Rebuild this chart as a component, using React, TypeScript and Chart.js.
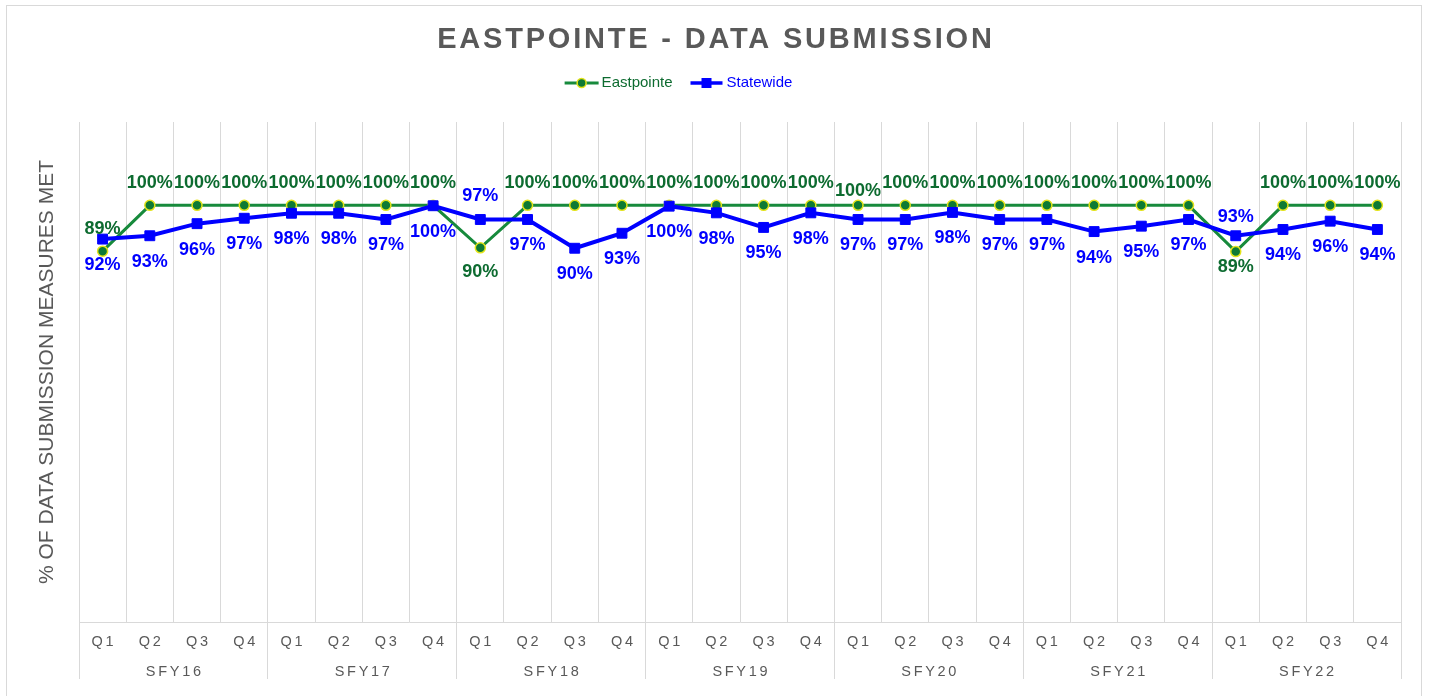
import React, { useEffect, useRef } from 'react';
import { Chart, registerables } from 'chart.js';

Chart.register(...registerables);

const FONT = 'Arial, "Liberation Sans", sans-serif';

const chartTitle = 'EASTPOINTE - DATA SUBMISSION';
const yAxisTitle = '% OF DATA SUBMISSION MEASURES MET';
const quarterLabels = ['Q1', 'Q2', 'Q3', 'Q4'];
const fiscalYears = ['SFY16', 'SFY17', 'SFY18', 'SFY19', 'SFY20', 'SFY21', 'SFY22'];
const categories = fiscalYears.flatMap((fy) => quarterLabels.map((q) => `${fy} ${q}`));

const eastpointe = [
  0.89, 1, 1, 1,
  1, 1, 1, 1,
  0.898, 1, 1, 1,
  1, 1, 1, 1,
  1, 1, 1, 1,
  1, 1, 1, 1,
  0.889, 1, 1, 1,
];
const statewide = [
  0.919, 0.927, 0.956, 0.969,
  0.981, 0.981, 0.966, 0.999,
  0.966, 0.966, 0.897, 0.933,
  0.998, 0.982, 0.947, 0.982,
  0.966, 0.966, 0.983, 0.966,
  0.966, 0.937, 0.95, 0.966,
  0.927, 0.942, 0.962, 0.942,
];

// styling
const GRAY = '#595959';
const GRID = '#D9D9D9';
const GREEN_LINE = '#178A3C';
const GREEN_FILL = '#0E7A34';
const YELLOW = '#E3E31A';
const GREEN_TEXT = '#0D6B30';
const BLUE = '#0000FF';

// label placement (vertical offset from the point, px)
const labelPlacement: Record<string, { base: number; special: Record<number, number>; color: string }> = {
  Eastpointe: { base: -22, special: { 8: 24, 16: -14, 24: 15 }, color: GREEN_TEXT },
  Statewide: { base: 26, special: { 8: -23, 24: -19 }, color: BLUE },
};

const align = (x: number) => Math.round(x - 0.5) + 0.5;

const decorPlugin = {
  id: 'decor',
  beforeDraw(chart: any) {
    const { ctx, width, height } = chart;
    ctx.save();
    ctx.fillStyle = '#ffffff';
    ctx.fillRect(0, 0, width, height);
    ctx.strokeStyle = GRID;
    ctx.lineWidth = 1;
    ctx.strokeRect(6.5, 5.5, 1415, height + 20);
    ctx.restore();
  },
  afterDatasetsDraw(chart: any) {
    const { ctx } = chart;
    ctx.save();
    ctx.font = `bold 18px ${FONT}`;
    ctx.textAlign = 'center';
    ctx.textBaseline = 'middle';
    chart.data.datasets.forEach((ds: any, di: number) => {
      const meta = chart.getDatasetMeta(di);
      const place = labelPlacement[ds.label];
      ctx.fillStyle = place.color;
      meta.data.forEach((pt: any, i: number) => {
        const v = ds.data[i] as number;
        const off = place.special[i] !== undefined ? place.special[i] : place.base;
        ctx.fillText(`${Math.round(v * 100)}%`, pt.x, pt.y + off);
      });
    });
    ctx.restore();
  },
  afterDraw(chart: any) {
    const { ctx, chartArea } = chart;
    const xs = chart.scales.x;
    ctx.save();

    // Title
    ctx.fillStyle = GRAY;
    ctx.font = `bold 29px ${FONT}`;
    ctx.textAlign = 'center';
    ctx.textBaseline = 'alphabetic';
    (ctx as any).letterSpacing = '2.8px';
    ctx.fillText(chartTitle, chart.width / 2 + 1.4, 48);

    // Legend
    (ctx as any).letterSpacing = '0px';
    ctx.font = `15px ${FONT}`;
    ctx.textBaseline = 'middle';
    ctx.textAlign = 'left';
    const ly = 83;
    const w1 = ctx.measureText('Eastpointe').width;
    const w2 = ctx.measureText('Statewide').width;
    const total = 34 + 3 + w1 + 18 + 32 + 4 + w2;
    let lx = chart.width / 2 - 36 - total / 2;
    ctx.strokeStyle = GREEN_LINE;
    ctx.lineWidth = 3;
    ctx.beginPath();
    ctx.moveTo(lx, ly);
    ctx.lineTo(lx + 34, ly);
    ctx.stroke();
    ctx.beginPath();
    ctx.arc(lx + 17, ly, 4.5, 0, Math.PI * 2);
    ctx.fillStyle = GREEN_FILL;
    ctx.fill();
    ctx.lineWidth = 1.5;
    ctx.strokeStyle = YELLOW;
    ctx.stroke();
    ctx.fillStyle = GREEN_TEXT;
    ctx.fillText('Eastpointe', lx + 37, ly);
    lx += 37 + w1 + 18;
    ctx.strokeStyle = BLUE;
    ctx.lineWidth = 3.5;
    ctx.beginPath();
    ctx.moveTo(lx, ly);
    ctx.lineTo(lx + 32, ly);
    ctx.stroke();
    ctx.fillStyle = BLUE;
    ctx.fillRect(lx + 16 - 5, ly - 5, 10, 10);
    ctx.fillText('Statewide', lx + 36, ly);

    // Multi-level category axis
    const step = (xs.right - xs.left) / categories.length;
    ctx.fillStyle = GRAY;
    ctx.font = `14.5px ${FONT}`;
    ctx.textAlign = 'center';
    ctx.textBaseline = 'alphabetic';
    (ctx as any).letterSpacing = '2.7px';
    categories.forEach((_, i) => {
      ctx.fillText(quarterLabels[i % quarterLabels.length], xs.getPixelForValue(i) + 1.35, chartArea.bottom + 24);
    });
    fiscalYears.forEach((fy, g) => {
      const a = xs.getPixelForValue(g * 4);
      const b = xs.getPixelForValue(g * 4 + 3);
      ctx.fillText(fy, (a + b) / 2 + 1.35, chartArea.bottom + 53.5);
    });
    ctx.strokeStyle = GRID;
    ctx.lineWidth = 1;
    for (let g = 0; g <= fiscalYears.length; g++) {
      const x = g < fiscalYears.length
        ? xs.getPixelForValue(g * 4) - step / 2
        : xs.getPixelForValue(categories.length - 1) + step / 2;
      ctx.beginPath();
      ctx.moveTo(align(x), chartArea.bottom);
      ctx.lineTo(align(x), chartArea.bottom + 57);
      ctx.stroke();
    }
    ctx.restore();
  },
};

export default function App() {
  const ref = useRef<HTMLCanvasElement>(null);

  useEffect(() => {
    if (!ref.current) return;
    const chart = new Chart(ref.current, {
      type: 'line',
      data: {
        labels: categories,
        datasets: [
          {
            label: 'Eastpointe',
            data: eastpointe,
            borderColor: GREEN_LINE,
            borderWidth: 3,
            pointStyle: 'circle',
            pointRadius: 5,
            pointBackgroundColor: GREEN_FILL,
            pointBorderColor: YELLOW,
            pointBorderWidth: 1.5,
            tension: 0,
            order: 1,
          },
          {
            label: 'Statewide',
            data: statewide,
            borderColor: BLUE,
            borderWidth: 4,
            pointStyle: 'rect',
            pointRadius: 7,
            pointBackgroundColor: BLUE,
            pointBorderColor: BLUE,
            pointBorderWidth: 1,
            tension: 0,
            order: 0,
          },
        ],
      },
      options: {
        responsive: false,
        devicePixelRatio: 1,
        animation: false,
        events: [],
        layout: { padding: { top: 122, right: 28, left: 0, bottom: 0 } },
        plugins: {
          legend: { display: false },
          title: { display: false },
          tooltip: { enabled: false },
        },
        scales: {
          x: {
            type: 'category',
            offset: true,
            grid: { offset: true, color: GRID, lineWidth: 1, drawTicks: false },
            border: { display: true, color: GRID, width: 1 },
            ticks: { display: false },
            afterFit: (s: any) => { s.height = 74; },
          },
          y: {
            min: 0,
            max: 1.2,
            grid: { display: false },
            border: { display: false },
            ticks: { display: false },
            title: {
              display: true,
              text: yAxisTitle,
              color: GRAY,
              font: { family: FONT, size: 21, weight: 'normal' },
              padding: { top: 34.4, bottom: 0 },
            },
            afterFit: (s: any) => { s.width = 79; },
          },
        },
      } as any,
      plugins: [decorPlugin],
    });
    return () => chart.destroy();
  }, []);

  return (
    <div style={{ position: 'absolute', left: 0, top: 0, width: 1429, height: 696 }}>
      <canvas ref={ref} width={1429} height={696} style={{ display: 'block', width: 1429, height: 696 }} />
    </div>
  );
}
